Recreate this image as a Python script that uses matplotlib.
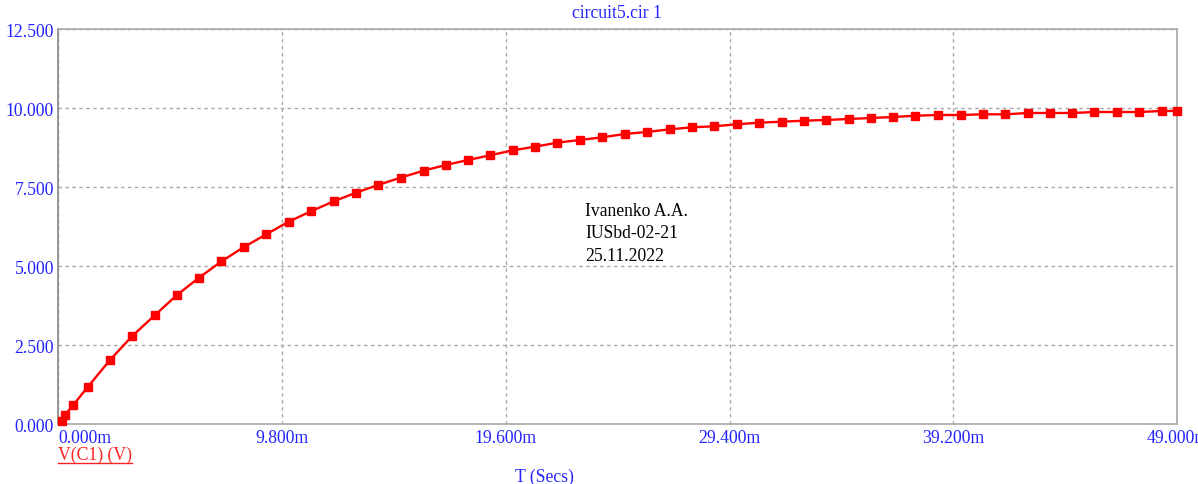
import numpy as np
import matplotlib
matplotlib.use("Agg")
import matplotlib.pyplot as plt
from matplotlib.lines import Line2D

# time in ms, voltage in V
t_ms = [0.175, 0.293, 0.644, 1.287, 2.264, 3.227, 4.234, 5.198, 6.161, 7.138,
        8.132, 9.108, 10.089, 11.066, 12.060, 13.036, 14.000, 14.985, 15.992, 16.964,
        17.941, 18.904, 19.911, 20.875, 21.851, 22.832, 23.822, 24.803, 25.766, 26.773,
        27.758, 28.726, 29.707, 30.697, 31.678, 32.654, 33.618, 34.625, 35.588, 36.565,
        37.528, 38.522, 39.516, 40.492, 41.469, 42.450, 43.426, 44.403, 45.366, 46.373,
        47.337, 48.318, 48.975]
v_c1 = [0.095, 0.294, 0.601, 1.180, 2.035, 2.785, 3.459, 4.092, 4.639, 5.152,
        5.611, 6.013, 6.412, 6.741, 7.057, 7.329, 7.573, 7.804, 8.025, 8.206,
        8.364, 8.513, 8.671, 8.785, 8.912, 8.997, 9.082, 9.187, 9.250, 9.335,
        9.399, 9.430, 9.494, 9.545, 9.576, 9.608, 9.630, 9.662, 9.693, 9.725,
        9.766, 9.788, 9.788, 9.810, 9.810, 9.851, 9.851, 9.851, 9.883, 9.883,
        9.883, 9.915, 9.915]

xticks = [0.0, 9.8, 19.6, 29.4, 39.2, 49.0]
yticks = [0.0, 2.5, 5.0, 7.5, 10.0, 12.5]

plt.rcParams['font.family'] = ['Liberation Serif', 'DejaVu Serif']
blue = '#2222ff'
fs = 12.7

W, H = 1198, 485
fig = plt.figure(figsize=(W/100, H/100), dpi=100)
ax = fig.add_axes([58.3/W, 1-425.3/H, 1119/W, 395/H])

ax.plot(t_ms, v_c1, color='#ff0000', lw=1.7, marker='s', ms=5.2,
        markeredgecolor='#ff0000', clip_on=False, zorder=3)

ax.set_xlim(0, 49)
ax.set_ylim(0, 12.5)
ax.set_xticks(xticks)
ax.set_yticks(yticks)
ax.set_xticklabels(["%.3fm" % v for v in xticks])
ax.set_yticklabels(["%.3f" % v for v in yticks])
ax.tick_params(length=0, labelsize=fs, labelcolor=blue)
ax.tick_params(axis='x', pad=3.5)
ax.tick_params(axis='y', pad=3)
ax.get_xticklabels()[0].set_ha('left')

ax.grid(True, color='#a8a8a8', lw=1, ls=(0, (2.5, 2.5)))
for s in ax.spines.values():
    s.set_color('#a8a8a8')
    s.set_linewidth(1.2)
ax.spines['left'].set_color('#888888')

fig.text(617/W, 1-14/H, "circuit5.cir 1", color=blue, fontsize=fs,
         ha='center', va='center')
fig.text(544/W, 1-477/H, "T (Secs)", color=blue, fontsize=fs,
         ha='center', va='center')
fig.text(58/W, 1-455/H, "V(C1) (V)", color='#ff2020', fontsize=fs,
         ha='left', va='center')
fig.add_artist(Line2D([58/W, 132/W], [1-464/H, 1-464/H], color='#ff2020', lw=1))

ax.text(585/W, 1-234/H, "Ivanenko A.A.\nIUSbd-02-21\n25.11.2022",
        transform=fig.transFigure, fontsize=fs, color='black',
        ha='left', va='center', linespacing=1.4)

fig.savefig("out.png", dpi=100)
